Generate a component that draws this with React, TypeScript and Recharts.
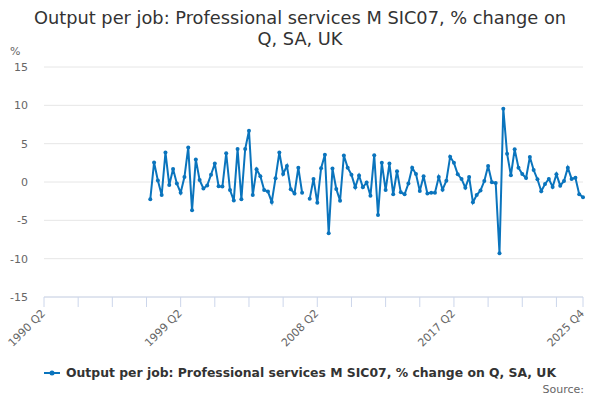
import React from "react";
import { LineChart, Line, XAxis, YAxis, CartesianGrid } from "recharts";

// first quarter on the axis and first quarter with data
const startYear = 1990;
const startQuarter = 2;
const quarterCount = 143; // 1990 Q2 .. 2025 Q4
const firstDataIndex = 28; // 1997 Q2

// % change on quarter, from 1997 Q2 to 2025 Q4 (null = no value)
const values: (number | null)[] = [
  -2.25, 2.55, 0.2, -1.7, 3.85, -0.4, 1.7, -0.2, -1.4, 0.65,
  4.5, -3.7, 2.95, 0.25, -0.85, -0.45, 0.95, 2.4, -0.55, -0.6,
  3.75, -1.05, -2.4, 4.3, -2.25, 4.3, 6.7, -1.7, 1.65, 0.75,
  -1.05, -1.25, -2.6, 0.5, 3.85, 1.05, 2.1, -0.95, -1.5, 1.87,
  -1.4, null, -2.2, 0.4, -2.7, 1.8, 3.55, -6.7, 1.75, -0.9,
  -2.45, 3.45, 1.87, 0.95, -0.7, 0.85, -0.7, -0.05, -1.8, 3.5,
  -4.3, 2.5, -1.05, 2.4, -1.6, 1.4, -1.35, -1.6, -0.2, 1.87,
  1.04, -1.17, 0.74, -1.5, -1.4, -1.4, 0.65, -1.0, 0.17, 3.3,
  2.5, 1.0, 0.4, -0.74, 0.65, -2.65, -1.7, -1.1, 0.13, 2.1,
  -0.04, -0.13, -9.3, 9.56, 3.7, 0.87, 4.26, 1.87, 1.04, 0.52,
  3.26, 1.56, 0.35, -1.2, -0.26, 0.4, -0.65, 1.0, -0.48, 0.13,
  1.87, 0.4, 0.56, -1.6, -2.0,
];

const yTicks = [-15, -10, -5, 0, 5, 10, 15];
const xTicks = [0, 9, 18, 27, 36, 45, 54, 63, 72, 81, 90, 99, 108, 117, 126, 135, 142];
const xLabelled = [0, 36, 72, 108, 142];

const seriesName = "Output per job: Professional services M SIC07, % change on Q, SA, UK";
const color = "#0a74bd";
const font = "'DejaVu Sans', sans-serif";

function quarterLabel(i: number) {
  const q = startQuarter - 1 + i;
  return `${startYear + Math.floor(q / 4)} Q${(q % 4) + 1}`;
}

const data = Array.from({ length: quarterCount }, (_, i) => ({
  i,
  label: quarterLabel(i),
  value: i >= firstDataIndex ? values[i - firstDataIndex] ?? null : null,
}));

function XTick(props: any) {
  const { x, y, payload } = props;
  if (!xLabelled.includes(payload.value)) return null;
  const tx = x + 2;
  const ty = y + 5;
  return (
    <text
      x={tx}
      y={ty}
      textAnchor="end"
      transform={`rotate(-45, ${tx}, ${ty})`}
      fill="#666"
      fontSize={11}
      fontFamily={font}
    >
      {quarterLabel(payload.value)}
    </text>
  );
}

export default function App() {
  return (
    <div style={{ position: "absolute", left: 0, top: 0, width: 600, height: 400, fontFamily: font }}>
      <div
        style={{
          position: "absolute",
          top: 7,
          left: 0,
          width: 600,
          textAlign: "center",
          fontSize: 17.8,
          lineHeight: "21.4px",
          color: "#333",
        }}
      >
        Output per job: Professional services M SIC07, % change on
        <br />
        Q, SA, UK
      </div>
      <div style={{ position: "absolute", top: 45, left: 10, fontSize: 11, color: "#666" }}>%</div>

      <LineChart width={600} height={400} data={data} margin={{ top: 67, right: 17, bottom: 43, left: 0 }}>
        <CartesianGrid vertical={false} stroke="#e6e6e6" />
        <XAxis
          dataKey="i"
          type="number"
          domain={[0, 142]}
          ticks={xTicks}
          interval={0}
          height={60}
          tick={<XTick />}
          tickSize={10}
          tickLine={{ stroke: "#ccd6eb" }}
          axisLine={{ stroke: "#ccd6eb" }}
        />
        <YAxis
          domain={[-15, 15]}
          ticks={yTicks}
          width={44}
          axisLine={false}
          tickLine={false}
          tickSize={0}
          tickMargin={16}
          tick={{ fill: "#666", fontSize: 11, fontFamily: font }}
        />
        <Line
          dataKey="value"
          stroke={color}
          strokeWidth={2}
          dot={{ r: 2, fill: color, stroke: color, strokeWidth: 0 }}
          isAnimationActive={false}
        />
      </LineChart>

      <div
        style={{
          position: "absolute",
          top: 365,
          left: 0,
          width: 600,
          display: "flex",
          justifyContent: "center",
          alignItems: "center",
          fontSize: 12.4,
          fontWeight: "bold",
          color: "#333",
        }}
      >
        <svg width={16} height={10} style={{ marginRight: 6 }}>
          <line x1={0} y1={5} x2={16} y2={5} stroke={color} strokeWidth={2} />
          <circle cx={8} cy={5} r={2.5} fill={color} />
        </svg>
        {seriesName}
      </div>
      <div style={{ position: "absolute", top: 383, right: 16, fontSize: 11, color: "#666" }}>Source:</div>
    </div>
  );
}
